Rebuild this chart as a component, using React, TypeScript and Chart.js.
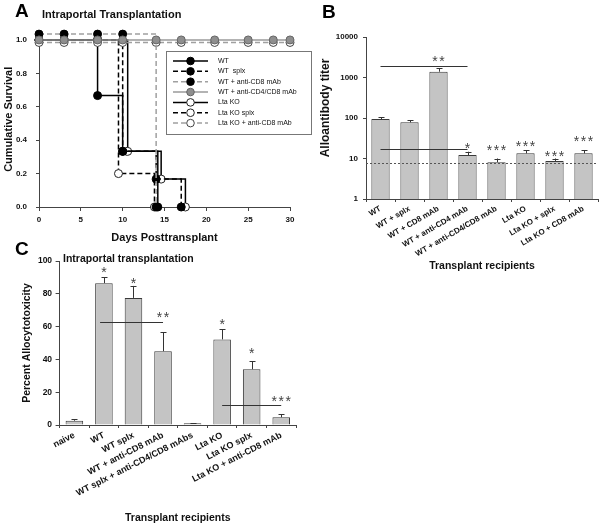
import React, { useEffect, useRef } from "react";
import { Chart, registerables } from "chart.js";

Chart.register(...registerables);

const FONT = "'Liberation Sans', Arial, Helvetica, sans-serif";
Chart.defaults.font.family = FONT;

// ---------------- Panel A : survival (Kaplan-Meier) ----------------
const wtDays = [0, 3, 7, 10, 14.2];
const wtSurvival = [1, 1, 0.667, 0.333, 0];
const wtSplxDays = [0, 3, 7, 10, 14, 17];
const wtSplxSurvival = [1, 1, 1, 0.333, 0.167, 0];
const wtCd8Days = [0, 3, 7, 10, 14];
const wtCd8Survival = [1.035, 1.035, 1.035, 1.035, 0];
const wtCd4Cd8Days = [0, 3, 7, 10, 14, 17, 21, 25, 28, 30];
const wtCd4Cd8Survival = [1, 1, 1, 1, 1, 1, 1, 1, 1, 1];
const ltaDays = [0, 3, 7, 10.6, 14.6, 17.5];
const ltaSurvival = [1, 1, 1, 0.333, 0.167, 0];
const ltaSplxDays = [0, 3, 7, 9.5, 13.8];
const ltaSplxSurvival = [1, 1, 1, 0.2, 0];
const ltaCd8Days = [0, 3, 7, 10, 14, 17, 21, 25, 28, 30];
const ltaCd8Survival = [0.985, 0.985, 0.985, 0.985, 0.985, 0.985, 0.985, 0.985, 0.985, 0.985];
const survivalTicks = [0, 0.2, 0.4, 0.6, 0.8, 1.0];
const dayTicks = [0, 5, 10, 15, 20, 25, 30];

// ---------------- Panel B : alloantibody titer ----------------
const titerGroups = [
  "WT",
  "WT + splx",
  "WT + CD8 mAb",
  "WT + anti-CD4 mAb",
  "WT + anti-CD4/CD8 mAb",
  "Lta KO",
  "Lta KO + splx",
  "Lta KO + CD8 mAb",
];
const titerMeans = [94, 78, 1390, 12.2, 8.1, 13.4, 8.7, 13.4];
const titerErrTop = [104, 89, 1690, 14.7, 10, 16.2, 10, 16];
const titerStars = ["", "", "**", "*", "***", "***", "***", "***"];
const titerStarLevel = [0, 0, 3020, 21.5, 19.2, 24, 13.7, 32];
const titerDetectionLimit = 7.6;
const titerBracketFrom = [0, 0];
const titerBracketTo = [3, 3];
const titerBracketLevel = [1925, 17.2];
const titerTicks = [1, 10, 100, 1000, 10000];

// ---------------- Panel C : allocytotoxicity ----------------
const cytoGroups = [
  "naive",
  "WT",
  "WT splx",
  "WT + anti-CD8 mAb",
  "WT splx + anti-CD4/CD8 mAbs",
  "Lta KO",
  "Lta KO splx",
  "Lta KO + anti-CD8 mAb",
];
const cytoMeans = [2.6, 86.5, 77.5, 45, 1, 52.2, 34, 4.7];
const cytoErrTop = [3.4, 90.2, 84.8, 56.7, 1.2, 58.5, 39, 6.5];
const cytoStars = ["", "*", "*", "**", "", "*", "*", "***"];
const cytoStarLevel = [0, 95, 88.4, 68, 0, 63.4, 46, 16.5];
const cytoBracketFrom = [0.87, 5];
const cytoBracketTo = [3, 7];
const cytoBracketLevel = [63, 12.2];
const cytoTicks = [0, 20, 40, 60, 80, 100];

const TEXT = "#111";
const AXIS = "#444";

function catPx(scale: any, idx: number) {
  const p0 = scale.getPixelForValue(0);
  const p1 = scale.getPixelForValue(1);
  return p0 + idx * (p1 - p0);
}

function drawStars(ctx: any, text: string, x: number, yCenter: number) {
  if (!text) return;
  ctx.save();
  ctx.font = `14px ${FONT}`;
  ctx.fillStyle = "#444";
  ctx.textAlign = "center";
  ctx.textBaseline = "alphabetic";
  try { ctx.letterSpacing = "1.5px"; } catch (e) {}
  ctx.fillText(text, x + 0.75, yCenter + 14 * 0.58);
  ctx.restore();
}

function drawErrorBars(chart: any, means: number[], tops: number[]) {
  const { ctx } = chart;
  const xs = chart.scales.x;
  const ys = chart.scales.y;
  ctx.save();
  ctx.strokeStyle = "#333";
  ctx.lineWidth = 1;
  means.forEach((m, i) => {
    const x = Math.round(xs.getPixelForValue(i)) + 0.5;
    const yb = ys.getPixelForValue(m);
    const yt = ys.getPixelForValue(tops[i]);
    ctx.beginPath();
    ctx.moveTo(x, yb);
    ctx.lineTo(x, yt);
    ctx.moveTo(x - 3, Math.round(yt) + 0.5);
    ctx.lineTo(x + 3, Math.round(yt) + 0.5);
    ctx.stroke();
  });
  ctx.restore();
}

function drawBrackets(chart: any, from: number[], to: number[], level: number[]) {
  const { ctx } = chart;
  const xs = chart.scales.x;
  const ys = chart.scales.y;
  ctx.save();
  ctx.strokeStyle = "#333";
  ctx.lineWidth = 1;
  level.forEach((v, i) => {
    const y = Math.round(ys.getPixelForValue(v)) + 0.5;
    ctx.beginPath();
    ctx.moveTo(catPx(xs, from[i]), y);
    ctx.lineTo(catPx(xs, to[i]), y);
    ctx.stroke();
  });
  ctx.restore();
}

type Series = {
  label: string;
  days: number[];
  surv: number[];
  line: string;
  dash: number[];
  fill: string;
  stroke: string;
  order: number;
};

const survivalSeries: Series[] = [
  { label: "WT", days: wtDays, surv: wtSurvival, line: "#000", dash: [], fill: "#000", stroke: "#000", order: 3 },
  { label: "WT  splx", days: wtSplxDays, surv: wtSplxSurvival, line: "#000", dash: [5, 3], fill: "#000", stroke: "#000", order: 4 },
  { label: "WT + anti-CD8 mAb", days: wtCd8Days, surv: wtCd8Survival, line: "#a0a0a0", dash: [5, 3], fill: "#000", stroke: "#000", order: 1 },
  { label: "WT + anti-CD4/CD8 mAb", days: wtCd4Cd8Days, surv: wtCd4Cd8Survival, line: "#9a9a9a", dash: [], fill: "#8e8e8e", stroke: "#666", order: 0 },
  { label: "Lta KO", days: ltaDays, surv: ltaSurvival, line: "#000", dash: [], fill: "#fff", stroke: "#222", order: 5 },
  { label: "Lta KO splx", days: ltaSplxDays, surv: ltaSplxSurvival, line: "#000", dash: [5, 3], fill: "#fff", stroke: "#222", order: 6 },
  { label: "Lta KO + anti-CD8 mAb", days: ltaCd8Days, surv: ltaCd8Survival, line: "#a0a0a0", dash: [5, 3], fill: "#fff", stroke: "#444", order: 2 },
];

function survivalConfig(): any {
  const annot = {
    id: "survAnnot",
    afterDraw(chart: any) {
      const ctx = chart.ctx;
      ctx.save();
      // panel title
      ctx.font = `bold 11px ${FONT}`;
      ctx.fillStyle = TEXT;
      ctx.textAlign = "left";
      ctx.textBaseline = "middle";
      ctx.fillText("Intraportal Transplantation", 42, 15);
      // legend box
      ctx.fillStyle = "#fff";
      ctx.fillRect(166, 51, 146, 84);
      ctx.strokeStyle = "#777";
      ctx.lineWidth = 1;
      ctx.strokeRect(166.5, 51.5, 145, 83);
      survivalSeries.forEach((s, i) => {
        const y = 61 + i * 10.35;
        ctx.setLineDash(s.dash);
        ctx.strokeStyle = s.line;
        ctx.lineWidth = 1.5;
        ctx.beginPath();
        ctx.moveTo(173, y);
        ctx.lineTo(208, y);
        ctx.stroke();
        ctx.setLineDash([]);
        ctx.beginPath();
        ctx.arc(190.5, y, 3.8, 0, Math.PI * 2);
        ctx.fillStyle = s.fill;
        ctx.fill();
        ctx.strokeStyle = s.stroke;
        ctx.lineWidth = 1;
        ctx.stroke();
        ctx.fillStyle = TEXT;
        ctx.font = `7px ${FONT}`;
        ctx.textBaseline = "middle";
        ctx.textAlign = "left";
        ctx.fillText(s.label, 218, y);
      });
      ctx.restore();
    },
  };
  return {
    type: "line",
    data: {
      datasets: survivalSeries.map((s) => ({
        label: s.label,
        data: s.days.map((d, i) => ({ x: d, y: s.surv[i] })),
        borderColor: s.line,
        borderDash: s.dash,
        borderWidth: 1.5,
        stepped: "before",
        fill: false,
        pointRadius: 4,
        pointBackgroundColor: s.fill,
        pointBorderColor: s.stroke,
        pointBorderWidth: 1,
        clip: false,
        order: s.order,
      })),
    },
    options: {
      animation: false,
      responsive: false,
      events: [],
      layout: { padding: { left: 0, top: 31.6, right: 30, bottom: 0 } },
      plugins: { legend: { display: false }, tooltip: { enabled: false } },
      scales: {
        x: {
          type: "linear",
          min: 0,
          max: 30,
          afterBuildTicks: (s: any) => { s.ticks = dayTicks.map((v) => ({ value: v })); },
          ticks: { font: { size: 8, weight: "bold" }, color: TEXT, padding: 4 },
          grid: { drawOnChartArea: false, tickLength: 4, color: AXIS },
          border: { color: AXIS },
          title: { display: true, text: "Days Posttransplant", font: { size: 11, weight: "bold" }, color: TEXT, padding: { top: 0, bottom: 5.4 } },
          afterFit: (s: any) => { s.height = 43; },
        },
        y: {
          min: 0,
          max: 1.05,
          afterBuildTicks: (s: any) => { s.ticks = survivalTicks.map((v) => ({ value: v })); },
          ticks: { font: { size: 8, weight: "bold" }, color: TEXT, padding: 9, callback: (v: any) => Number(v).toFixed(1) },
          grid: { drawOnChartArea: false, tickLength: 3, color: AXIS },
          border: { color: AXIS },
          title: { display: true, text: "Cumulative Survival", font: { size: 11, weight: "bold" }, color: TEXT, padding: { top: 2.4, bottom: 0 } },
          afterFit: (s: any) => { s.width = 39; },
        },
      },
    },
    plugins: [annot],
  };
}

function titerConfig(): any {
  const annot = {
    id: "titerAnnot",
    afterDatasetsDraw(chart: any) {
      const { ctx, chartArea } = chart;
      const ys = chart.scales.y;
      const xs = chart.scales.x;
      // detection limit dotted line
      ctx.save();
      ctx.strokeStyle = "#555";
      ctx.lineWidth = 1;
      ctx.setLineDash([2, 2]);
      const yd = Math.round(ys.getPixelForValue(titerDetectionLimit)) + 0.5;
      ctx.beginPath();
      ctx.moveTo(chartArea.left, yd);
      ctx.lineTo(chartArea.right, yd);
      ctx.stroke();
      ctx.restore();
      drawErrorBars(chart, titerMeans, titerErrTop);
      drawBrackets(chart, titerBracketFrom, titerBracketTo, titerBracketLevel);
      titerStars.forEach((s, i) => drawStars(ctx, s, xs.getPixelForValue(i), ys.getPixelForValue(titerStarLevel[i] || 1)));
      // y title
      ctx.save();
      ctx.translate(26, 108);
      ctx.rotate(-Math.PI / 2);
      ctx.font = `bold 12px ${FONT}`;
      ctx.fillStyle = TEXT;
      ctx.textAlign = "center";
      ctx.textBaseline = "middle";
      ctx.fillText("Alloantibody titer", 0, 0);
      ctx.restore();
    },
  };
  return {
    type: "bar",
    data: {
      labels: titerGroups,
      datasets: [
        {
          data: titerMeans,
          backgroundColor: "#c4c4c4",
          borderColor: "#3a3a3a",
          borderWidth: 1,
          barPercentage: 0.9,
          categoryPercentage: 0.7,
        },
      ],
    },
    options: {
      animation: false,
      responsive: false,
      events: [],
      layout: { padding: { left: 0, top: 37, right: 2, bottom: 0 } },
      plugins: { legend: { display: false }, tooltip: { enabled: false } },
      scales: {
        x: {
          ticks: { autoSkip: false, minRotation: 30, maxRotation: 30, font: { size: 8, weight: "bold" }, color: TEXT, padding: 2 },
          grid: { drawOnChartArea: false, tickLength: 3, color: AXIS },
          border: { color: AXIS },
          title: { display: true, text: "Transplant recipients", font: { size: 10.5, weight: "bold" }, color: TEXT, padding: { top: 0, bottom: 2.7 } },
          afterFit: (s: any) => { s.height = 76; },
        },
        y: {
          type: "logarithmic",
          min: 1,
          max: 10000,
          afterBuildTicks: (s: any) => { s.ticks = titerTicks.map((v) => ({ value: v })); },
          ticks: { font: { size: 8, weight: "bold" }, color: TEXT, padding: 5, callback: (v: any) => String(v) },
          grid: { drawOnChartArea: false, tickLength: 3, color: AXIS },
          border: { color: AXIS },
          afterFit: (s: any) => { s.width = 66; },
        },
      },
    },
    plugins: [annot],
  };
}

function cytoConfig(): any {
  const annot = {
    id: "cytoAnnot",
    afterDatasetsDraw(chart: any) {
      const { ctx } = chart;
      const ys = chart.scales.y;
      const xs = chart.scales.x;
      drawErrorBars(chart, cytoMeans, cytoErrTop);
      drawBrackets(chart, cytoBracketFrom, cytoBracketTo, cytoBracketLevel);
      cytoStars.forEach((s, i) => drawStars(ctx, s, xs.getPixelForValue(i), ys.getPixelForValue(cytoStarLevel[i])));
      ctx.save();
      ctx.font = `bold 10.5px ${FONT}`;
      ctx.fillStyle = TEXT;
      ctx.textAlign = "left";
      ctx.textBaseline = "middle";
      ctx.fillText("Intraportal transplantation", 63, 14);
      ctx.restore();
    },
  };
  return {
    type: "bar",
    data: {
      labels: cytoGroups,
      datasets: [
        {
          data: cytoMeans,
          backgroundColor: "#c4c4c4",
          borderColor: "#3a3a3a",
          borderWidth: 1,
          barPercentage: 0.9,
          categoryPercentage: 0.66,
        },
      ],
    },
    options: {
      animation: false,
      responsive: false,
      events: [],
      layout: { padding: { left: 0, top: 16, right: 4, bottom: 0 } },
      plugins: { legend: { display: false }, tooltip: { enabled: false } },
      scales: {
        x: {
          ticks: { autoSkip: false, minRotation: 27, maxRotation: 27, font: { size: 9, weight: "bold" }, color: TEXT, padding: 2 },
          grid: { drawOnChartArea: false, tickLength: 3, color: AXIS },
          border: { color: AXIS },
          title: { display: true, text: "Transplant recipients", font: { size: 10.5, weight: "bold" }, color: TEXT, padding: { top: 0, bottom: 0.7 } },
          afterFit: (s: any) => { s.height = 100; },
        },
        y: {
          min: 0,
          max: 100,
          afterBuildTicks: (s: any) => { s.ticks = cytoTicks.map((v) => ({ value: v })); },
          ticks: { font: { size: 8.5, weight: "bold" }, color: TEXT, padding: 3.5 },
          grid: { drawOnChartArea: false, tickLength: 4, color: AXIS },
          border: { color: AXIS },
          title: { display: true, text: "Percent Allocytotoxicity", font: { size: 10.5, weight: "bold" }, color: TEXT, padding: { top: 20.7, bottom: 0 } },
          afterFit: (s: any) => { s.width = 59.6; },
        },
      },
    },
    plugins: [annot],
  };
}

const letterStyle = (left: number, top: number): React.CSSProperties => ({
  position: "absolute",
  left,
  top,
  font: `bold 19px ${FONT}`,
  lineHeight: "19px",
  color: "#000",
});

export default function App() {
  const aRef = useRef<HTMLCanvasElement>(null);
  const bRef = useRef<HTMLCanvasElement>(null);
  const cRef = useRef<HTMLCanvasElement>(null);

  useEffect(() => {
    const charts = [
      new Chart(aRef.current as HTMLCanvasElement, survivalConfig()),
      new Chart(bRef.current as HTMLCanvasElement, titerConfig()),
      new Chart(cRef.current as HTMLCanvasElement, cytoConfig()),
    ];
    return () => charts.forEach((c) => c.destroy());
  }, []);

  return (
    <div style={{ position: "absolute", left: 0, top: 0, width: 600, height: 525, background: "#fff", overflow: "hidden" }}>
      <canvas ref={aRef} width={320} height={250} style={{ position: "absolute", left: 0, top: 0, width: 320, height: 250 }} />
      <canvas ref={bRef} width={300} height={275} style={{ position: "absolute", left: 300, top: 0, width: 300, height: 275 }} />
      <canvas ref={cRef} width={300} height={280} style={{ position: "absolute", left: 0, top: 245, width: 300, height: 280 }} />
      <div style={letterStyle(15, 0.5)}>A</div>
      <div style={letterStyle(322, 2)}>B</div>
      <div style={letterStyle(15, 238.5)}>C</div>
    </div>
  );
}
